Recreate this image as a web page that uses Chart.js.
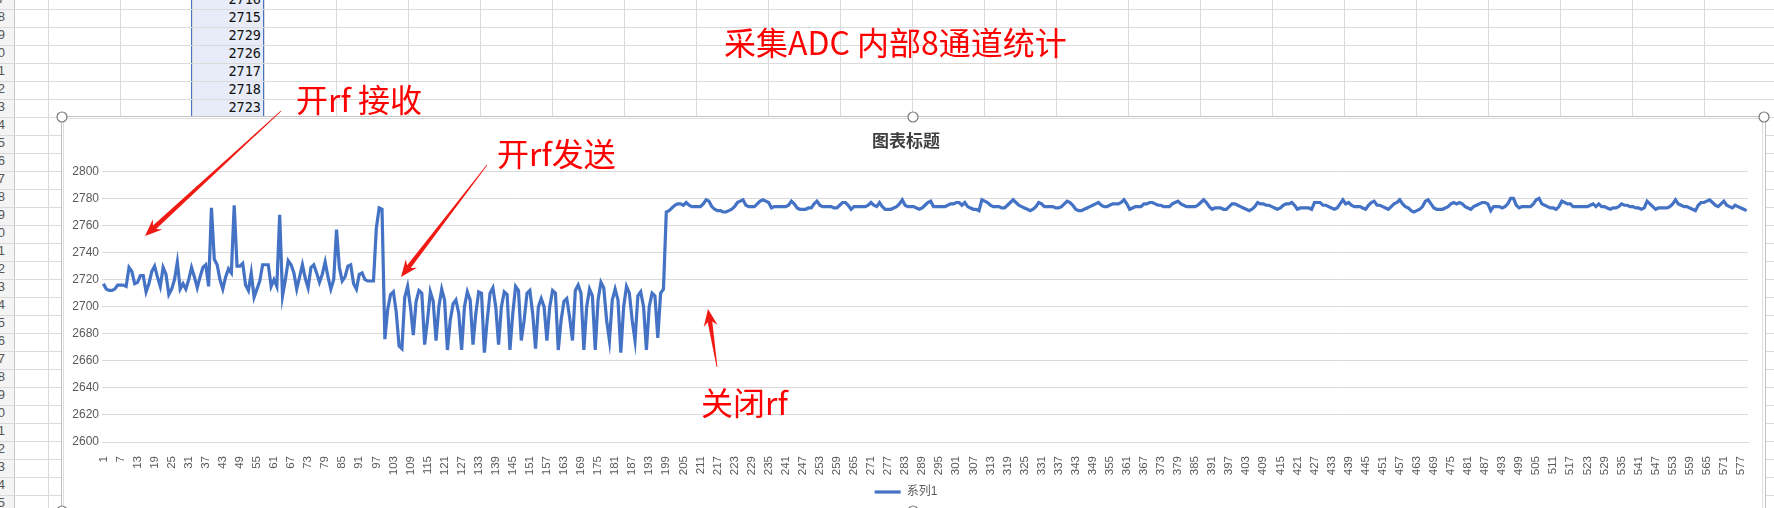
<!DOCTYPE html>
<html><head><meta charset="utf-8">
<script src="https://cdn.jsdelivr.net/npm/chart.js@4.4.1/dist/chart.umd.min.js"></script>
<style>
html,body{margin:0;padding:0;width:1774px;height:508px;overflow:hidden;background:#fff;}
.abs{position:absolute;}
#hdr{left:0;top:0;width:15px;height:508px;background:#f4f4f4;border-right:1px solid #c6c6c6;box-sizing:border-box;}
#selcol{left:191px;top:0;width:74px;height:117px;background:#e7ecf8;border-left:2px solid #4a72c4;border-right:2px solid #4a72c4;box-sizing:border-box;}
#rows{left:0;top:9px;width:1774px;height:500px;background:repeating-linear-gradient(to bottom,#dadada 0,#dadada 1px,transparent 1px,transparent 18px);}
#cols{left:48px;top:0;width:1726px;height:508px;background:repeating-linear-gradient(to right,#dadada 0,#dadada 1px,transparent 1px,transparent 72px);}
.rowno{left:-31px;width:36px;height:18px;line-height:18px;text-align:right;font:13px "Liberation Sans",sans-serif;color:#555;}
.cell{left:193px;width:68px;height:18px;line-height:19px;text-align:right;font:13.5px "DejaVu Sans Mono",monospace;color:#111;}
#chartbox{left:62px;top:116px;width:1704px;height:400px;background:#fff;}
#cv{left:64px;top:118px;}
.note{font-family:"Noto Sans CJK SC",sans-serif;font-size:32px;line-height:32px;color:#ff0000;white-space:pre;}
#ov{left:0;top:0;}
</style></head>
<body>
<div id="hdr" class="abs"></div>
<div id="selcol" class="abs"></div>
<div id="rows" class="abs"></div>
<div id="cols" class="abs"></div>
<div id="cells"></div>
<div id="chartbox" class="abs"></div>
<canvas id="cv" class="abs" width="1698" height="390"></canvas>
<svg id="ov" class="abs" width="1774" height="508"></svg>
<div class="abs note" style="left:724px;top:25px;">采集ADC 内部8通道统计</div>
<div class="abs note" style="left:296px;top:82px;">开rf 接收</div>
<div class="abs note" style="left:497px;top:136px;">开rf发送</div>
<div class="abs note" style="left:701px;top:385px;">关闭rf</div>
<script>
// ---- data ----
const rxOn = [ // 开rf 接收 (points 1-99)
2717,2713,2712,2712,2713,2716,2716,2716,2715,2729,
2726,2717,2718,2723,2723,2711,2717,2726,2730,2722,
2715,2729,2724,2709,2713,2720,2733,2713,2717,2713,
2720,2729,2722,2714,2722,2729,2731,2715,2773,2735,
2731,2720,2713,2722,2728,2725,2775,2730,2730,2732,
2716,2712,2725,2707,2713,2719,2731,2731,2731,2715,
2720,2715,2768,2708,2720,2734,2731,2725,2713,2722,
2731,2721,2714,2729,2731,2725,2718,2724,2733,2722,
2713,2720,2757,2729,2719,2722,2730,2731,2717,2713,
2724,2725,2720,2719,2719,2719,2758,2773,2772];
const txOn = [ // 开rf发送 (points 100-198)
2676,2698,2709,2711,2696,2671,2669,2707,2715,2700,
2679,2704,2712,2710,2672,2690,2711,2704,2675,2700,
2713,2705,2668,2690,2702,2705,2695,2668,2700,2711,
2705,2672,2695,2711,2710,2666,2690,2710,2714,2700,
2672,2700,2711,2709,2668,2695,2715,2712,2675,2690,
2710,2712,2695,2669,2700,2706,2700,2675,2700,2712,
2710,2668,2690,2704,2706,2692,2675,2712,2716,2710,
2668,2700,2713,2708,2668,2705,2718,2714,2690,2675,
2705,2713,2705,2666,2700,2715,2710,2690,2675,2708,
2711,2700,2668,2700,2710,2708,2677,2710,2713];
const rfOff = [ // 关闭rf (points 199-579)
2770,2771,2773,2775,2776,2776,2775,2777,2775,2774,
2774,2774,2774,2776,2779,2778,2774,2772,2771,2771,
2770,2770,2771,2772,2774,2777,2778,2779,2775,2774,
2774,2774,2776,2778,2779,2778,2777,2773,2774,2774,
2774,2774,2774,2775,2778,2776,2773,2772,2772,2772,
2773,2773,2776,2778,2775,2774,2774,2774,2774,2773,
2773,2775,2777,2777,2775,2772,2774,2774,2774,2774,
2774,2775,2777,2775,2774,2777,2774,2772,2772,2772,
2773,2774,2776,2779,2775,2774,2774,2774,2773,2772,
2773,2775,2777,2778,2774,2774,2774,2774,2774,2775,
2776,2776,2777,2777,2775,2777,2774,2773,2772,2772,
2771,2779,2778,2777,2775,2774,2774,2774,2773,2773,
2775,2777,2779,2777,2775,2774,2773,2772,2771,2772,
2774,2777,2776,2774,2774,2774,2774,2773,2773,2774,
2776,2778,2777,2775,2772,2771,2771,2772,2773,2774,
2775,2776,2777,2775,2774,2774,2775,2776,2776,2776,
2777,2779,2776,2772,2773,2774,2774,2774,2776,2776,
2777,2777,2776,2775,2775,2774,2774,2774,2776,2777,
2778,2776,2775,2774,2774,2774,2774,2775,2777,2779,
2777,2774,2772,2773,2773,2773,2772,2772,2774,2776,
2776,2775,2774,2773,2772,2771,2772,2774,2777,2776,
2776,2775,2775,2774,2773,2772,2773,2775,2776,2776,
2777,2775,2772,2773,2773,2773,2773,2772,2777,2777,
2777,2775,2775,2774,2773,2772,2773,2776,2779,2776,
2777,2775,2774,2774,2774,2773,2772,2775,2777,2778,
2775,2775,2774,2773,2772,2774,2776,2777,2779,2776,
2774,2773,2771,2770,2771,2772,2774,2778,2779,2776,
2773,2772,2772,2772,2773,2774,2776,2777,2776,2777,
2776,2774,2773,2772,2774,2775,2776,2777,2777,2776,
2771,2774,2774,2774,2773,2774,2776,2780,2780,2775,
2773,2774,2774,2774,2774,2776,2779,2780,2776,2775,
2774,2773,2773,2772,2774,2778,2777,2776,2776,2774,
2774,2774,2774,2774,2774,2775,2776,2774,2776,2774,
2774,2773,2772,2773,2773,2774,2776,2775,2775,2774,
2774,2773,2773,2772,2773,2778,2776,2774,2772,2773,
2773,2773,2773,2774,2776,2779,2776,2775,2774,2774,
2773,2772,2771,2775,2777,2777,2778,2779,2777,2775,
2774,2776,2778,2775,2774,2773,2775,2774,2773,2772,2771];
const seriesName = '系列1';
const chartTitle = '图表标题';
const yMin = 2600, yMax = 2800, yStep = 20;
const xLabelEvery = 6;
const cellValues = [2716,2715,2729,2726,2717,2718,2723];

const values = rxOn.concat(txOn, rfOff);
const categories = values.map((v, i) => String(i + 1));

// ---- spreadsheet decoration ----
const cellsDiv = document.getElementById('cells');
for (let k = -1; k < 28; k++) {
  const d = document.createElement('div');
  d.className = 'abs rowno';
  d.style.top = (9 + 18 * k) + 'px';
  d.textContent = String(8 + k);
  document.body.insertBefore(d, document.getElementById('rows'));
}
cellValues.forEach((v, k) => {
  const d = document.createElement('div');
  d.className = 'abs cell';
  d.style.top = (-9 + 18 * k) + 'px';
  d.textContent = v;
  cellsDiv.appendChild(d);
});

// ---- chart frame, handles, arrows ----
const svgNS = 'http://www.w3.org/2000/svg';
const ov = document.getElementById('ov');
function el(tag, attrs) { const e = document.createElementNS(svgNS, tag); for (const k in attrs) e.setAttribute(k, attrs[k]); ov.appendChild(e); return e; }
el('line', {x1:61.5, y1:116.5, x2:1765.5, y2:116.5, stroke:'#c2c2c2', 'stroke-width':1});
el('line', {x1:63.5, y1:118.5, x2:1763.5, y2:118.5, stroke:'#dedede', 'stroke-width':1});
el('line', {x1:61.5, y1:116.5, x2:61.5, y2:508, stroke:'#c2c2c2', 'stroke-width':1});
el('line', {x1:63.5, y1:118.5, x2:63.5, y2:508, stroke:'#dedede', 'stroke-width':1});
el('line', {x1:1765.5, y1:116.5, x2:1765.5, y2:508, stroke:'#c2c2c2', 'stroke-width':1});
el('line', {x1:1762.5, y1:118.5, x2:1762.5, y2:508, stroke:'#dedede', 'stroke-width':1});
[[62,117],[913,117],[1764,117],[62,511],[913,511]].forEach(p => el('circle', {cx:p[0], cy:p[1], r:5, fill:'#fff', stroke:'#7a7a7a', 'stroke-width':1.2}));
function arrow(x1, y1, x2, y2) {
  const L = Math.hypot(x2 - x1, y2 - y1), dx = (x2 - x1) / L, dy = (y2 - y1) / L, nx = -dy, ny = dx;
  const hl = 17, hw = 7, sw = 2.3, tw = 0.4;
  const bx = x2 - dx * hl, by = y2 - dy * hl, ix = x2 - dx * (hl - 4), iy = y2 - dy * (hl - 4);
  const pts = [[x1 + nx * tw, y1 + ny * tw], [ix + nx * sw, iy + ny * sw], [bx + nx * hw, by + ny * hw], [x2, y2], [bx - nx * hw, by - ny * hw], [ix - nx * sw, iy - ny * sw], [x1 - nx * tw, y1 - ny * tw]];
  el('polygon', {points: pts.map(p => p[0].toFixed(1) + ',' + p[1].toFixed(1)).join(' '), fill:'#f01a14'});
}
arrow(281, 111, 145, 236);
arrow(487, 165, 401, 277);
arrow(717, 367, 708, 309);

// ---- chart ----
new Chart(document.getElementById('cv'), {
  type: 'line',
  data: {
    labels: categories,
    datasets: [{
      label: seriesName,
      data: values,
      borderColor: '#4472C4',
      backgroundColor: '#4472C4',
      borderWidth: 3.2,
      pointRadius: 0,
      tension: 0,
      fill: false
    }]
  },
  options: {
    responsive: false,
    animation: false,
    layout: {padding: {left: 0, right: 14, top: 0, bottom: 0}},
    plugins: {
      title: {display: true, text: chartTitle, color: '#404040',
        font: {family: '"Noto Sans CJK SC", sans-serif', size: 17, weight: 'bold'},
        padding: {top: 12, bottom: 21}},
      legend: {display: true, position: 'bottom',
        labels: {usePointStyle: true, pointStyle: 'line', pointStyleWidth: 26, color: '#595959', padding: 10,
          font: {family: '"Liberation Sans", "Noto Sans CJK SC", sans-serif', size: 12}}},
      tooltip: {enabled: false}
    },
    scales: {
      x: {
        offset: true,
        grid: {display: false},
        border: {display: true, color: '#d9d9d9'},
        ticks: {autoSkip: false, maxRotation: 90, minRotation: 90, padding: 6, color: '#595959',
          font: {family: '"Liberation Sans", sans-serif', size: 11.5},
          callback: function (value, index) { return index % xLabelEvery === 0 ? this.getLabelForValue(value) : null; }},
        afterFit: s => { s.height = 34; }
      },
      y: {
        min: yMin, max: yMax,
        grid: {color: '#d9d9d9', drawTicks: false},
        border: {display: false},
        ticks: {stepSize: yStep, padding: 3, color: '#595959', font: {family: '"Liberation Sans", sans-serif', size: 12},
          callback: v => String(v)},
        afterFit: s => { s.width = 38; }
      }
    }
  }
});
</script>
</body></html>
